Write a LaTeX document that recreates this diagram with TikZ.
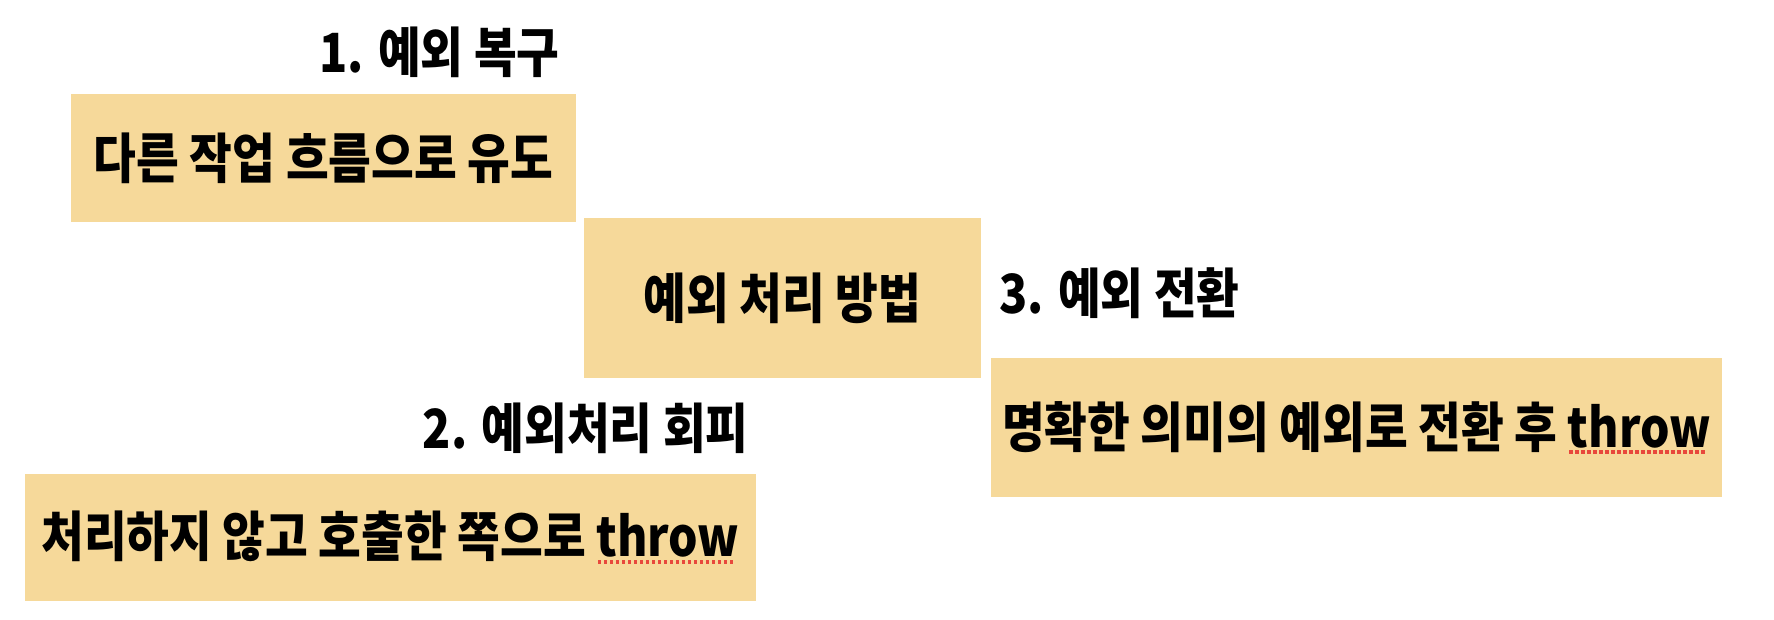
\documentclass[tikz,border=0pt]{standalone}
\usepackage{fontspec}
\setmainfont{Noto Sans CJK KR}[FakeStretch=0.86]
\usetikzlibrary{positioning}
\definecolor{boxfill}{RGB}{246,217,154}
\definecolor{spellred}{RGB}{232,72,60}
% red dotted mark under a word
\newcommand{\spellmark}[1]{\setbox0=\hbox{#1}\rlap{\color{spellred}\raisebox{-3.4pt}{\leaders\hbox to 3pt{\hss\rule{1.7pt}{1.7pt}\hss}\hskip\wd0}}#1}

\begin{document}
\begin{tikzpicture} [x = 0.5pt, y = -0.5pt,
	methodbox/.style = {fill = boxfill, inner sep = 0pt, font = \bfseries\fontsize{27}{32}\selectfont},
	methodlabel/.style = {inner sep = 0pt, font = \bfseries\fontsize{27}{32}\selectfont}]
	\useasboundingbox (0,0) rectangle (1774,620);

	\node [methodbox, minimum width = 252.5pt, minimum height = 64pt] (recover) at (323.5,158) {다른 작업 흐름으로 유도};
	\node [methodbox, minimum width = 198.5pt, minimum height = 80pt] (handle) at (782.5,298) {예외 처리 방법};
	\node [methodbox, minimum width = 365.5pt, minimum height = 69.5pt] (convert) at (1356.5,427.5) {명확한 의미의 예외로 전환 후 \spellmark{throw}};
	\node [methodbox, minimum width = 365.5pt, minimum height = 63.5pt] (avoid) at (390.5,537.5) {처리하지 않고 호출한 쪽으로 \spellmark{throw}};

	\node [methodlabel, anchor = east] (recoverlabel) at (560,52) {1. 예외 복구};
	\node [methodlabel, anchor = east] (avoidlabel) at (749,428) {2. 예외처리 회피};
	\node [methodlabel, anchor = west] (convertlabel) at (999,293) {3. 예외 전환};
\end{tikzpicture}
\end{document}
